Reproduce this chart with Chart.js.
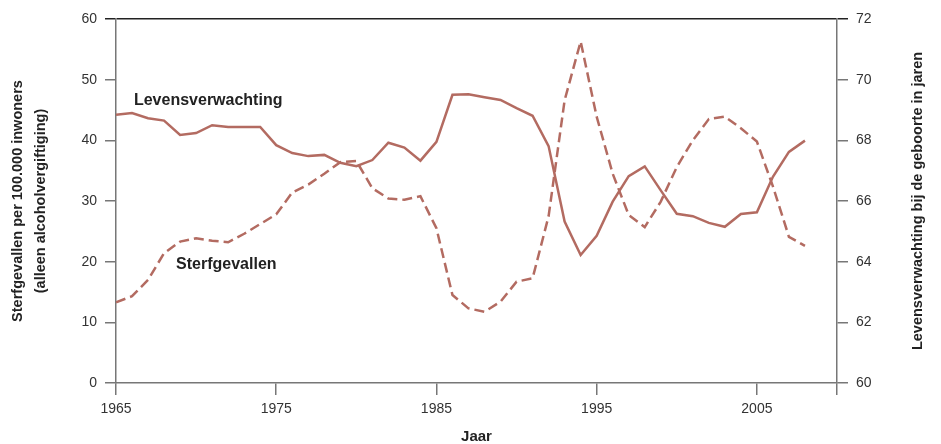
<!DOCTYPE html>
<html>
<head>
<meta charset="utf-8">
<script src="https://cdn.jsdelivr.net/npm/chart.js@4/dist/chart.umd.min.js"></script>
<style>
  html, body { margin: 0; padding: 0; background: #fff; }
  canvas { display: block; }
</style>
</head>
<body>
<canvas id="c" width="941" height="444"></canvas>
<script>
// ---- data ----
const years = [1965,1966,1967,1968,1969,1970,1971,1972,1973,1974,1975,1976,1977,1978,1979,1980,1981,1982,1983,1984,1985,1986,1987,1988,1989,1990,1991,1992,1993,1994,1995,1996,1997,1998,1999,2000,2001,2002,2003,2004,2005,2006,2007,2008];
const deaths = [13.3,14.3,17.0,21.4,23.3,23.85,23.45,23.2,24.6,26.2,27.8,31.4,32.7,34.5,36.4,36.6,32.1,30.4,30.2,30.8,25.5,14.5,12.3,11.75,13.4,16.7,17.25,27.5,46.6,56.3,43.9,34.5,27.7,25.7,29.9,35.6,40.0,43.5,43.9,42.0,39.8,32.4,24.1,22.6];
const lifeExp = [68.84,68.9,68.73,68.65,68.18,68.24,68.5,68.44,68.44,68.44,67.84,67.58,67.48,67.52,67.26,67.15,67.35,67.92,67.76,67.33,67.95,69.5,69.52,69.42,69.33,69.06,68.81,67.81,65.32,64.22,64.85,65.98,66.82,67.14,66.35,65.58,65.5,65.28,65.15,65.57,65.63,66.8,67.62,67.99];
const xTickValues = [1965,1975,1985,1995,2005,2010];
const xTickLabels = ['1965','1975','1985','1995','2005',''];
const leftTitle = ['Sterfgevallen per 100.000 inwoners','(alleen alcoholvergiftiging)'];
const rightTitle = 'Levensverwachting bij de geboorte in jaren';
const xTitle = 'Jaar';
const seriesNames = ['Sterfgevallen','Levensverwachting'];

const LINE = '#b36b61';
const AXIS = '#777';
const DARK = '#222';
const FONT = "'Liberation Sans', Arial, Helvetica, sans-serif";

const labelPlugin = {
  id: 'labels',
  afterDraw(chart) {
    const {ctx, scales} = chart;
    ctx.save();
    ctx.fillStyle = DARK;
    ctx.font = "bold 16px " + FONT;
    ctx.textAlign = 'left';
    ctx.textBaseline = 'alphabetic';
    ctx.fillText(seriesNames[1], scales.x.getPixelForValue(1966.12), scales.y1.getPixelForValue(69.18));
    ctx.fillText(seriesNames[0], scales.x.getPixelForValue(1968.75), scales.y.getPixelForValue(18.87));
    // right axis title (reads bottom to top)
    ctx.font = "bold 14.5px " + FONT;
    ctx.textAlign = 'center';
    ctx.textBaseline = 'middle';
    const ca = chart.chartArea;
    ctx.translate(918, (ca.top + ca.bottom) / 2);
    ctx.rotate(-Math.PI / 2);
    ctx.fillText(rightTitle, 0, 0);
    ctx.restore();
  }
};

new Chart(document.getElementById('c'), {
  type: 'line',
  data: {
    datasets: [
      {
        label: seriesNames[0],
        data: years.map((y, i) => ({x: y, y: deaths[i]})),
        yAxisID: 'y',
        borderColor: LINE,
        borderWidth: 2.5,
        borderDash: [10, 5],
        pointRadius: 0,
        tension: 0,
        fill: false
      },
      {
        label: seriesNames[1],
        data: years.map((y, i) => ({x: y, y: lifeExp[i]})),
        yAxisID: 'y1',
        borderColor: LINE,
        borderWidth: 2.5,
        pointRadius: 0,
        tension: 0,
        fill: false
      }
    ]
  },
  options: {
    responsive: false,
    animation: false,
    devicePixelRatio: 1,
    layout: { padding: { top: 19, left: 0, right: 0, bottom: 0 } },
    plugins: { legend: { display: false }, tooltip: { enabled: false } },
    scales: {
      x: {
        type: 'linear',
        min: 1965,
        max: 2010,
        afterBuildTicks(scale) { scale.ticks = xTickValues.map(v => ({value: v})); },
        afterFit(scale) { scale.height = 61; },
        ticks: {
          autoSkip: false,
          maxRotation: 0,
          padding: 6,
          color: '#333',
          font: { family: FONT, size: 14 },
          callback: (v) => { const i = xTickValues.indexOf(v); return i >= 0 ? xTickLabels[i] : ''; }
        },
        grid: { drawOnChartArea: false, color: AXIS, lineWidth: 1.5, tickLength: 12 },
        border: { color: AXIS, width: 1.5 },
        title: {
          display: true, text: xTitle, color: DARK,
          font: { family: FONT, size: 15, weight: 'bold', lineHeight: 1 },
          padding: 0
        }
      },
      y: {
        position: 'left',
        min: 0, max: 60,
        ticks: { stepSize: 10, padding: 8, color: '#333', font: { family: FONT, size: 14 } },
        afterFit(scale) { scale.width = 116; },
        grid: {
          drawOnChartArea: true,
          color: (ctx) => ctx.tick && ctx.tick.value === 60 ? DARK : 'rgba(0,0,0,0)',
          tickColor: (ctx) => ctx.tick && ctx.tick.value === 60 ? DARK : AXIS,
          lineWidth: 1.5,
          tickLength: 11
        },
        border: { color: AXIS, width: 1.5 },
        title: {
          display: true, text: leftTitle, color: DARK,
          font: { family: FONT, size: 14.5, weight: 'bold', lineHeight: 1.6 },
          padding: { top: 6, bottom: 0 }
        }
      },
      y1: {
        position: 'right',
        min: 60, max: 72,
        ticks: { stepSize: 2, padding: 8, color: '#333', font: { family: FONT, size: 14 } },
        afterFit(scale) { scale.width = 104; },
        grid: {
          drawOnChartArea: false,
          color: (ctx) => ctx.tick && ctx.tick.value === 72 ? DARK : AXIS,
          lineWidth: 1.5,
          tickLength: 11
        },
        border: { color: AXIS, width: 1.5 }
      }
    }
  },
  plugins: [labelPlugin]
});
</script>
</body>
</html>
